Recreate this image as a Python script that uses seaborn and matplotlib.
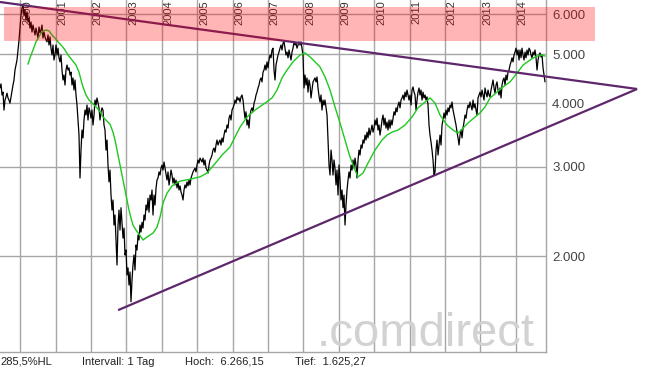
import numpy as np
import pandas as pd
import matplotlib
matplotlib.use('Agg')
import matplotlib.pyplot as plt
import matplotlib.dates as mdates
import matplotlib.transforms as mtransforms
from matplotlib.patches import Rectangle
import seaborn as sns

# daily close, sampled about every 10 days (Jun 1999 - Oct 2014)
price_start = '1999-06-08'
price_end = '2014-10-30'
price = [
    4290, 4370, 4155, 4210, 3880, 4060, 4120, 4190, 4100, 4060,
    4005, 4120, 4250, 4348, 4448, 4654, 4761, 4871, 5097, 5334,
    5630, 5976, 6170, 6266, 5976, 6113, 5841, 6060, 5790, 5895,
    5630, 5790, 5530, 5710, 5582, 5457, 5630, 5510, 5380, 5660,
    5510, 5580, 5710, 5380, 5530, 5410, 5334, 5290, 5457, 5214,
    5410, 5140, 4983, 5214, 4871, 4983, 5214, 4983, 5140, 4920,
    4830, 4983, 4654, 4448, 4550, 4348, 4654, 4761, 4654, 4700,
    4550, 4610, 4348, 4490, 4250, 4448, 4155, 3970, 3709, 3464,
    2850, 3236, 3544, 3420, 3709, 3881, 3794, 3970, 3709, 3920,
    3850, 3740, 3881, 3625, 3794, 4061, 3970, 4100, 4005, 3920,
    3709, 3850, 3920, 3881, 3625, 3544, 3236, 3387, 3023, 2800,
    2955, 2638, 2464, 2579, 2302, 2409, 2151, 1920, 2302, 2464,
    2250, 2490, 2330, 2170, 2270, 2009, 2055, 1835, 1895, 1753,
    1860, 1625, 1793, 1920, 2009, 1877, 2102, 2055, 2200, 2151,
    2302, 2230, 2330, 2270, 2409, 2355, 2521, 2464, 2600, 2440,
    2638, 2579, 2699, 2409, 2638, 2521, 2720, 2824, 2850, 2930,
    2889, 2980, 3023, 2955, 3065, 2980, 2889, 2824, 2930, 2761,
    2850, 2955, 2889, 2785, 2850, 2761, 2824, 2725, 2800, 2699,
    2750, 2675, 2638, 2579, 2699, 2761, 2725, 2800, 2750, 2824,
    2761, 2850, 2889, 2930, 2955, 2980, 2930, 3023, 3093, 3050,
    3120, 3093, 3065, 3120, 3023, 3093, 2980, 2955, 2915, 3023,
    3093, 3120, 3164, 3236, 3265, 3205, 3311, 3387, 3311, 3355,
    3387, 3311, 3418, 3355, 3464, 3544, 3510, 3625, 3575, 3740,
    3794, 3709, 3881, 3920, 3970, 4061, 4005, 4120, 4061, 4100,
    4025, 4120, 4155, 4061, 3881, 3740, 3850, 3625, 3709, 3575,
    3794, 3881, 3920, 3850, 4005, 4061, 4155, 4210, 4290, 4348,
    4448, 4490, 4410, 4610, 4654, 4761, 4654, 4830, 4700, 4871,
    4983, 4920, 5097, 5140, 4654, 4448, 4761, 4871, 4983, 5050,
    5140, 5214, 5097, 5260, 5290, 5140, 4983, 5050, 4920, 5097,
    4983, 4871, 5050, 5140, 5290, 5214, 5260, 5140, 5214, 5290,
    5214, 5290, 5140, 4983, 4290, 4550, 4348, 4490, 4210, 4448,
    4348, 4100, 4250, 4410, 4448, 4490, 4410, 4510, 4290, 4135,
    4025, 4155, 3881, 4061, 3970, 4061, 3920, 3794, 3387, 3023,
    2889, 3236, 3093, 2889, 3093, 2980, 2761, 2955, 2638, 3023,
    2824, 2579, 2699, 2490, 2638, 2302, 2521, 2699, 2824, 2930,
    2850, 3023, 2955, 3093, 2980, 3120, 3023, 2850, 3093, 3236,
    3164, 3311, 3265, 3387, 3340, 3464, 3387, 3510, 3420, 3575,
    3464, 3544, 3625, 3510, 3575, 3709, 3625, 3740, 3544, 3625,
    3464, 3575, 3709, 3794, 3625, 3740, 3575, 3675, 3544, 3709,
    3575, 3709, 3625, 3740, 3850, 3794, 3920, 3850, 3970, 4025,
    3920, 4061, 4100, 4155, 4061, 4210, 4120, 4250, 4155, 4061,
    4155, 3970, 4250, 4310, 4210, 4155, 3881, 4061, 4210, 4290,
    4155, 4250, 4061, 4210, 4100, 4155, 4061, 4120, 3970, 3625,
    3464, 3355, 3236, 3093, 2889, 2930, 3236, 3387, 3164, 3311,
    3464, 3311, 3625, 3709, 3830, 3740, 3881, 3794, 3920, 3850,
    3970, 3920, 4025, 3881, 3794, 3709, 3625, 3510, 3420, 3311,
    3464, 3544, 3420, 3575, 3675, 3794, 3740, 3881, 3970, 3920,
    4025, 3950, 3881, 4061, 3920, 3990, 3881, 3794, 4100, 4155,
    4210, 4120, 4250, 4155, 4061, 4290, 4190, 4120, 4250, 4155,
    4120, 4250, 4348, 4448, 4290, 4190, 4348, 4410, 4250, 4155,
    4290, 4100, 4348, 4448, 4490, 4348, 4550, 4448, 4610, 4654,
    4761, 4830, 4920, 4830, 4983, 5050, 5140, 4983, 5097, 4871,
    5097, 4920, 5140, 4983, 4871, 5050, 4920, 5097, 4983, 5140,
    5097, 4983, 4920, 5050, 4983, 5097, 4920, 4654, 4871, 4983,
    5030, 4940, 4983, 4700, 4550, 4410,
]

# moving average (green), sample positions in the price series
ma_idx = [
    28, 30, 33, 36, 40, 43, 46, 49, 52, 55, 58, 62, 65, 68, 72, 76, 79, 81, 83, 86,
    89, 93, 97, 100, 103, 107, 110, 113, 115, 117, 119, 121, 123, 125, 127, 129, 131, 133, 136, 139,
    143, 147, 153, 157, 160, 163, 167, 172, 180, 190, 200, 207, 213, 218, 222, 230, 235, 240, 247, 255,
    265, 272, 277, 282, 287, 293, 300, 305, 310, 315, 320, 325, 330, 335, 340, 345, 350, 355, 358, 363,
    368, 375, 382, 387, 392, 398, 405, 412, 418, 425, 430, 435, 440, 447, 453, 458, 463, 468, 475, 480,
    485, 490, 497, 503, 510, 517, 523, 530, 535, 540, 545,
]
ma_vals = [
    4780, 4920, 5097, 5290, 5457, 5560, 5582, 5560, 5457, 5380, 5290, 5190, 5097, 4983, 4871, 4761, 4610, 4448, 4310, 4155,
    4061, 3990, 3920, 3850, 3760, 3690, 3640, 3510, 3387, 3236, 3093, 2955, 2824, 2699, 2579, 2464, 2375, 2302, 2250, 2210,
    2151, 2180, 2220, 2280, 2385, 2545, 2660, 2750, 2810, 2835, 2865, 2915, 3010, 3093, 3164, 3280, 3435, 3590, 3760, 3881,
    4005, 4100, 4250, 4490, 4654, 4830, 4983, 5030, 4940, 4830, 4720, 4510, 4250, 3935, 3660, 3387, 3135, 2955, 2865, 2915,
    3050, 3236, 3387, 3464, 3510, 3544, 3625, 3760, 3920, 4025, 4100, 4005, 3794, 3625, 3544, 3495, 3575, 3660, 3760, 3830,
    3935, 4100, 4210, 4310, 4410, 4590, 4761, 4871, 4940, 4983, 4960,
]

# trend lines (drawn by hand on the original chart)
trend_top_dates = ['1999-06-08', '2017-06-06']
trend_top_vals = [6339, 4270]
trend_bot_dates = ['2002-10-08', '2017-06-06']
trend_bot_vals = [1564, 4270]

# resistance zone
zone_dates = ['1999-07-19', '2016-03-29']
zone_vals = [5310, 6200]

years = [str(y) for y in range(2000, 2015)]
y_ticks = [2000, 3000, 4000, 5000, 6000]
y_labels = ['2.000', '3.000', '4.000', '5.000', '6.000']
info_texts = ['285,5%HL', 'Intervall: 1 Tag', 'Hoch:  6.266,15', 'Tief:  1.625,27']
info_x = [0, 82, 185, 295]

sns.set_style('white')
plt.rcParams['font.family'] = ['Liberation Sans', 'DejaVu Sans']

W, H = 645, 376
fig = plt.figure(figsize=(W / 100, H / 100), dpi=100)
ax_bottom = 352
ax = fig.add_axes([0, (H - ax_bottom) / H, 546 / W, ax_bottom / H])

dates = pd.date_range(price_start, price_end, periods=len(price))
df = pd.DataFrame({'date': dates, 'close': price})
ma = pd.DataFrame({'date': dates[ma_idx], 'ma': ma_vals})

grid_col = '#a6a6a6'
purple = '#5e276b'

sns.lineplot(data=df, x='date', y='close', ax=ax, color='black', linewidth=0.9, zorder=3)
sns.lineplot(data=ma, x='date', y='ma', ax=ax, color='#1ec81e', linewidth=1.0, zorder=4)

ax.plot(pd.to_datetime(trend_top_dates), trend_top_vals, color=purple, lw=1.6,
        zorder=5, clip_on=False, solid_capstyle='butt')
ax.plot(pd.to_datetime(trend_bot_dates), trend_bot_vals, color=purple, lw=1.6,
        zorder=5, clip_on=False, solid_capstyle='butt')

z0, z1 = mdates.date2num(pd.to_datetime(zone_dates))
ax.add_patch(Rectangle((z0, zone_vals[0]), z1 - z0, zone_vals[1] - zone_vals[0],
                       facecolor='red', alpha=0.29, edgecolor='none',
                       zorder=6, clip_on=False))

ax.set_yscale('log')
# keep the same vertical scale as the reference (2.000 line at y=256 px)
ax.set_ylim(2000 * 10 ** (-(ax_bottom - 256) / 507), 6397)
ax.set_xlim(pd.Timestamp('1999-06-08'), pd.Timestamp('2014-11-09'))

ax.yaxis.set_major_locator(matplotlib.ticker.FixedLocator(y_ticks))
ax.yaxis.set_minor_locator(matplotlib.ticker.NullLocator())
ax.yaxis.set_major_formatter(matplotlib.ticker.FixedFormatter(y_labels))
ax.yaxis.tick_right()
ax.tick_params(axis='y', length=0, pad=4.3, labelsize=9.5, labelcolor='#444444')

ax.xaxis.set_major_locator(mdates.YearLocator())
ax.xaxis.set_minor_locator(matplotlib.ticker.NullLocator())
ax.tick_params(axis='x', length=0, labelbottom=False)

ax.grid(True, color=grid_col, linewidth=1.0)
ax.set_axisbelow(True)
for t in ax.yaxis.get_major_ticks():
    if t.get_loc() == 6000:
        t.gridline.set_visible(False)

ax.set_xlabel('')
ax.set_ylabel('')
for s in ['top', 'left']:
    ax.spines[s].set_visible(False)
for s in ['right', 'bottom']:
    ax.spines[s].set_color(grid_col)
    ax.spines[s].set_linewidth(1.0)

# year labels, rotated, at the top next to each gridline
trans = mtransforms.blended_transform_factory(ax.transData, ax.transAxes)
shift = mtransforms.ScaledTranslation(2 / 100, 0, fig.dpi_scale_trans)
for y in years:
    ax.text(pd.Timestamp(f'{y}-01-01'), 1.0, y, transform=trans + shift,
            rotation=90, ha='left', va='top', fontsize=8, color='#333333', zorder=1)

# watermark
fig.text(535 / W, 1 - 346 / H, '.comdirect', ha='right', va='baseline',
         fontsize=34, color='#d2d2d2', zorder=2)

for txt, x in zip(info_texts, info_x):
    fig.text(x / W, 1 - 362 / H, txt, ha='left', va='center', fontsize=8, color='#222222')

fig.savefig('out.png', dpi=100)
